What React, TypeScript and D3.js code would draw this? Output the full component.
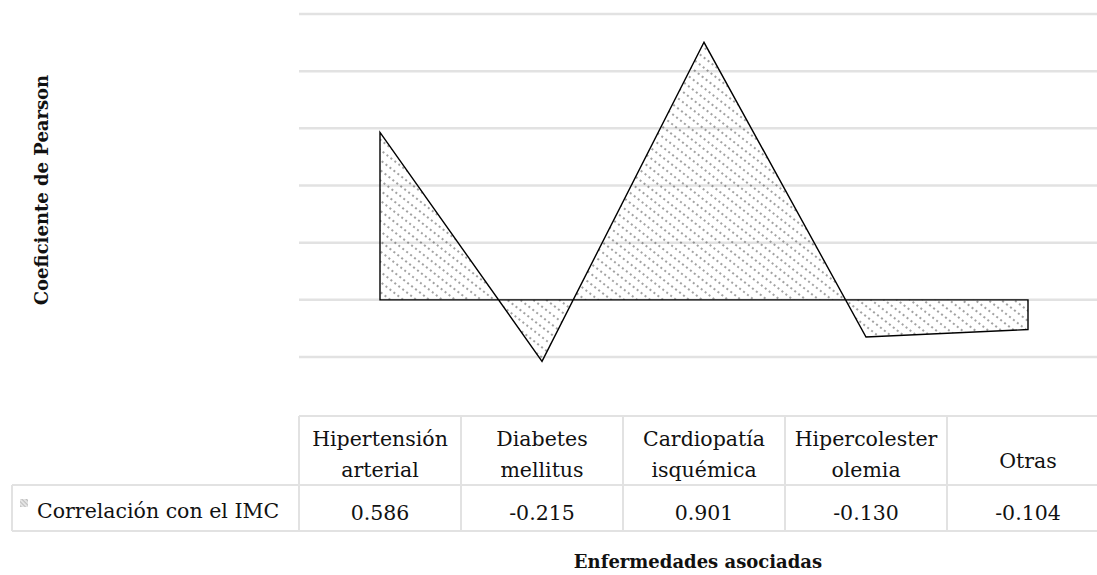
import React, { useRef, useEffect } from "react";
import { select, scaleLinear, scaleBand, area } from "d3";

// datos del grafico
const categories = [
  ["Hipertensión", "arterial"],
  ["Diabetes", "mellitus"],
  ["Cardiopatía", "isquémica"],
  ["Hipercolester", "olemia"],
  ["Otras"],
];
const values = [0.586, -0.215, 0.901, -0.13, -0.104];
const valueLabels = ["0.586", "-0.215", "0.901", "-0.130", "-0.104"];
const yTicks = [-0.2, 0, 0.2, 0.4, 0.6, 0.8, 1.0];
const seriesName = "Correlación con el IMC";
const xTitle = "Enfermedades asociadas";
const yTitle = "Coeficiente de Pearson";

const W = 1097;
const H = 575;
const font = "'DejaVu Serif', 'Liberation Serif', serif";

export default function App() {
  const svgRef = useRef(null);

  useEffect(() => {
    const svg = select(svgRef.current);
    svg.selectAll("*").remove();

    const left = 299;
    const colW = 162;
    const x = scaleBand()
      .domain(values.map((d, i) => String(i)))
      .range([left, left + colW * values.length]);
    const cx = (i) => x(String(i)) + x.bandwidth() / 2;

    const y = scaleLinear().domain([-0.2, 1.0]).range([357, 14]);

    // pattern
    const defs = svg.append("defs");
    const pat = defs
      .append("pattern")
      .attr("id", "hatch")
      .attr("patternUnits", "userSpaceOnUse")
      .attr("width", 10)
      .attr("height", 8)
      .attr("patternTransform", "rotate(38)");
    pat
      .append("line")
      .attr("x1", 0)
      .attr("x2", 10)
      .attr("y1", 4)
      .attr("y2", 4)
      .attr("stroke", "#444")
      .attr("stroke-width", 1)
      .attr("stroke-dasharray", "2,3");

    const keyPat = defs
      .append("pattern")
      .attr("id", "keyhatch")
      .attr("patternUnits", "userSpaceOnUse")
      .attr("width", 3)
      .attr("height", 3)
      .attr("patternTransform", "rotate(45)");
    keyPat.append("rect").attr("width", 3).attr("height", 3).attr("fill", "#e4e4e4");
    keyPat
      .append("line")
      .attr("x1", 0)
      .attr("x2", 3)
      .attr("y1", 1.5)
      .attr("y2", 1.5)
      .attr("stroke", "#bdbdbd")
      .attr("stroke-width", 1);

    // gridlines
    svg
      .append("g")
      .selectAll("line")
      .data(yTicks)
      .join("line")
      .attr("x1", left)
      .attr("x2", W)
      .attr("y1", (d) => y(d))
      .attr("y2", (d) => y(d))
      .attr("stroke", "#e2e2e2")
      .attr("stroke-width", 2.5);

    // area
    const ar = area()
      .x((d, i) => cx(i))
      .y0(y(0))
      .y1((d) => y(d));
    svg
      .append("path")
      .datum(values)
      .attr("d", ar)
      .attr("fill", "url(#hatch)")
      .attr("stroke", "#000")
      .attr("stroke-width", 1.4)
      .attr("stroke-linejoin", "miter");

    // tabla de datos
    const tTop = 416;
    const tMid = 485;
    const tBot = 531;
    const legLeft = 12;
    const right = left + colW * values.length;
    const tg = svg.append("g");
    const border = "#e2e2e2";

    tg.append("line").attr("x1", left).attr("x2", right).attr("y1", tTop).attr("y2", tTop)
      .attr("stroke", border).attr("stroke-width", 2);
    tg.append("line").attr("x1", legLeft).attr("x2", right).attr("y1", tMid).attr("y2", tMid)
      .attr("stroke", border).attr("stroke-width", 2);
    tg.append("line").attr("x1", legLeft).attr("x2", right).attr("y1", tBot).attr("y2", tBot)
      .attr("stroke", border).attr("stroke-width", 2);
    tg.append("line").attr("x1", legLeft).attr("x2", legLeft).attr("y1", tMid).attr("y2", tBot)
      .attr("stroke", border).attr("stroke-width", 2);
    tg.selectAll("line.col")
      .data(values.map((d, i) => i))
      .join("line")
      .attr("class", "col")
      .attr("x1", (i) => x(String(i)))
      .attr("x2", (i) => x(String(i)))
      .attr("y1", tTop)
      .attr("y2", tBot)
      .attr("stroke", border)
      .attr("stroke-width", 2);

    // encabezados
    categories.forEach((lines, i) => {
      const t = tg
        .append("text")
        .attr("text-anchor", "middle")
        .attr("font-family", font)
        .attr("font-size", 20.5)
        .attr("fill", "#111");
      const lh = 31;
      const y0 = lines.length === 1 ? 468 : 446;
      lines.forEach((s, j) => {
        t.append("tspan").attr("x", cx(i)).attr("y", y0 + j * lh).text(s);
      });
    });

    // valores
    tg.selectAll("text.val")
      .data(valueLabels)
      .join("text")
      .attr("class", "val")
      .attr("x", (d, i) => cx(i))
      .attr("y", 520)
      .attr("text-anchor", "middle")
      .attr("font-family", font)
      .attr("font-size", 20.5)
      .attr("fill", "#111")
      .text((d) => d);

    // leyenda
    tg.append("rect")
      .attr("x", 20)
      .attr("y", 499)
      .attr("width", 8)
      .attr("height", 8)
      .attr("fill", "url(#keyhatch)");
    tg.append("text")
      .attr("x", 37)
      .attr("y", 518)
      .attr("font-family", font)
      .attr("font-size", 20.5)
      .attr("fill", "#111")
      .text(seriesName);

    // titulos
    svg
      .append("text")
      .attr("x", 698)
      .attr("y", 568)
      .attr("text-anchor", "middle")
      .attr("font-family", font)
      .attr("font-size", 18)
      .attr("font-weight", "bold")
      .attr("fill", "#111")
      .text(xTitle);

    svg
      .append("text")
      .attr("transform", "translate(48,190) rotate(-90)")
      .attr("text-anchor", "middle")
      .attr("font-family", font)
      .attr("font-size", 18)
      .attr("font-weight", "bold")
      .attr("fill", "#111")
      .text(yTitle);
  }, []);

  return (
    <svg
      ref={svgRef}
      width={W}
      height={H}
      style={{ position: "fixed", top: 0, left: 0, background: "#fff" }}
    ></svg>
  );
}
